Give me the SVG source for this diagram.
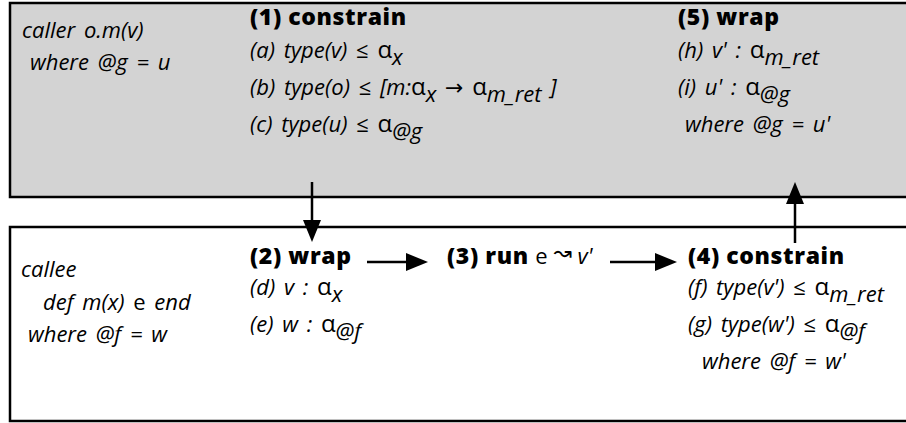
<svg xmlns="http://www.w3.org/2000/svg" width="906" height="423" viewBox="0 0 906 423">
  <style>
    text { font-family: "Open Sans", "Noto Sans", "DejaVu Sans", sans-serif; font-size: 22px; word-spacing: 3px; fill: #000; }
    .it { font-style: italic; }
    .hd { font-weight: 800; font-size: 23px; letter-spacing: 0.6px; word-spacing: 0; }
    .up { font-style: normal; }
    .sym { font-style: normal; font-size: 24px; }
    .plain { font-weight: 400; font-size: 22px; letter-spacing: 0; }
    .box { stroke: #000; stroke-width: 2.5; }
    .caller { fill: #d3d3d3; }
    .callee { fill: #fff; }
    .conn line { stroke: #000; stroke-width: 2.5; fill: none; }
  </style>
  <defs>
    <marker id="head" markerUnits="userSpaceOnUse" markerWidth="24" markerHeight="20" refX="2" refY="9" orient="auto">
      <path d="M0,0 L22,9 L0,18 Z" fill="#000"/>
    </marker>
  </defs>

  <!-- caller frame (right edge runs past the canvas) -->
  <g id="caller">
    <rect class="box caller" x="10" y="3" width="905" height="194"/>
    <text class="it" x="22" y="38">caller o.m(v)</text>
    <text class="it" x="30" y="70">where @g = u</text>
  </g>

  <!-- callee frame -->
  <g id="callee">
    <rect class="box callee" x="10" y="227" width="905" height="194"/>
    <text class="it" x="21" y="277">callee</text>
    <text class="it" x="43" y="310">def m(x) <tspan class="up">e</tspan> end</text>
    <text class="it" x="28" y="342">where @f = w</text>
  </g>

  <g id="step1">
    <text class="hd" x="250" y="25">(1) constrain</text>
    <text class="it" x="250" y="58">(a) type(v) <tspan class="up">≤</tspan> <tspan class="sym">α</tspan><tspan dy="7">x</tspan></text>
    <text class="it" x="250" y="95">(b) type(o) <tspan class="up">≤</tspan> [m:<tspan class="sym">α</tspan><tspan dy="7">x</tspan><tspan class="up" dy="-7"> → </tspan><tspan class="sym">α</tspan><tspan dy="7">m_ret</tspan><tspan dy="-7"> ]</tspan></text>
    <text class="it" x="250" y="132">(c) type(u) <tspan class="up">≤</tspan> <tspan class="sym">α</tspan><tspan dy="7">@g</tspan></text>
  </g>

  <g id="step5">
    <text class="hd" x="678" y="25">(5) wrap</text>
    <text class="it" x="678" y="58">(h) v' : <tspan class="sym">α</tspan><tspan dy="7">m_ret</tspan></text>
    <text class="it" x="678" y="95">(i) u' : <tspan class="sym">α</tspan><tspan dy="7">@g</tspan></text>
    <text class="it" x="685" y="132">where @g = u'</text>
  </g>

  <g id="step2">
    <text class="hd" x="250" y="264">(2) wrap</text>
    <text class="it" x="250" y="295">(d) v : <tspan class="sym">α</tspan><tspan dy="7">x</tspan></text>
    <text class="it" x="250" y="332">(e) w : <tspan class="sym">α</tspan><tspan dy="7">@f</tspan></text>
  </g>

  <g id="step3">
    <text class="hd" x="447" y="264">(3) run <tspan class="up plain">e </tspan><tspan class="up plain" font-size="14" dy="-4">↝</tspan><tspan class="it plain" dy="4"> v'</tspan></text>
  </g>

  <g id="step4">
    <text class="hd" x="688" y="264">(4) constrain</text>
    <text class="it" x="688" y="295">(f) type(v') <tspan class="up">≤</tspan> <tspan class="sym">α</tspan><tspan dy="7">m_ret</tspan></text>
    <text class="it" x="688" y="332">(g) type(w') <tspan class="up">≤</tspan> <tspan class="sym">α</tspan><tspan dy="7">@f</tspan></text>
    <text class="it" x="702" y="369">where @f = w'</text>
  </g>

  <g id="connectors" class="conn">
    <line x1="312" y1="182" x2="312" y2="222" marker-end="url(#head)"/>
    <line x1="367" y1="262" x2="408" y2="262" marker-end="url(#head)"/>
    <line x1="610" y1="262" x2="657" y2="262" marker-end="url(#head)"/>
    <line x1="795" y1="243" x2="795" y2="202" marker-end="url(#head)"/>
  </g>
</svg>
